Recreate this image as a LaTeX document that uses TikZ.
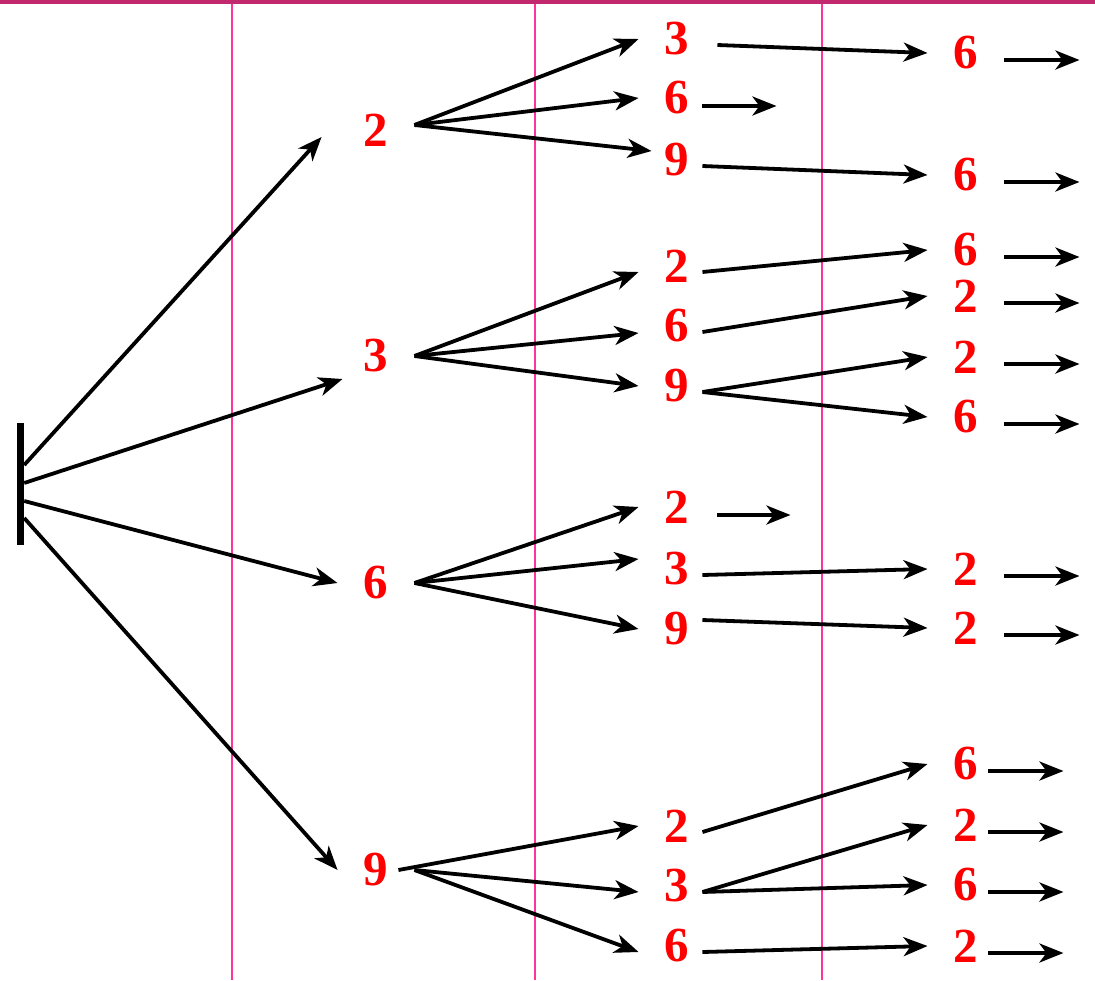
\documentclass[tikz,border=0pt]{standalone}
\usepackage{fontspec}
\setmainfont{Liberation Serif}
\newfontfamily\numfont{Liberation Serif Bold}
\usetikzlibrary{arrows.meta}
\definecolor{topline}{HTML}{C2286E}
\definecolor{colline}{HTML}{FF3399}
\tikzset{
  num/.style={text=red, font=\numfont\fontsize{49}{49}\selectfont, inner xsep=26pt, inner ysep=0pt},
  arr/.style={-{Stealth[length=24pt,width=19pt,inset=7pt]}, line width=3.8pt},
}
\begin{document}
\begin{tikzpicture}[x=1pt,y=-1pt] %% y goes down, as in the picture
  \useasboundingbox (0,0) rectangle (1095,980);
  %% frame
  \draw[topline, line width=4pt] (0,2) -- (1095,2);
  \foreach \x in {232, 535, 822} \draw[colline, line width=1.6pt] (\x,4) -- (\x,980);

  %% start bar
  \node[fill=black, minimum width=7pt, minimum height=122pt, inner sep=0pt] (root) at (20.5,484) {};

  %% first digit
  \foreach \n/\t/\y in {r2/2/130, r3/3/356, r6/6/583, r9/9/870}
    \node[num] (\n) at (376,\y) {\t};
  %% second digit
  \foreach \n/\t/\y in {r2-3/3/39, r2-6/6/98, r2-9/9/160, r3-2/2/266, r3-6/6/326, r3-9/9/386,
                        r6-2/2/507, r6-3/3/569, r6-9/9/629, r9-2/2/826, r9-3/3/886, r9-6/6/946}
    {\node[num] (\n) at (677,\y) {\t};
     \coordinate (\n-out) at ([shift={(-13pt,-6pt)}]\n.east);}
  %% third digit
  \foreach \n/\t/\y in {r2-3-6/6/53, r2-9-6/6/175, r3-2-6/6/250, r3-6-2/2/296, r3-9-2/2/357, r3-9-6/6/417,
                        r6-3-2/2/569, r6-9-2/2/628, r9-2-6/6/764, r9-3-2/2/825, r9-3-6/6/885, r9-6-2/2/946}
    \node[num] (\n) at (966,\y) {\t};

  %% bar -> first digit
  \draw[arr] ([yshift=19pt]root.east) -- ([shift={(-16pt,-7pt)}]r2.west);
  \draw[arr] ([yshift=1pt]root.east) -- ([shift={(5pt,-23pt)}]r3.west);
  \draw[arr] ([yshift=-17pt]root.east) -- (r6.west);
  \draw[arr] ([yshift=-34pt]root.east) -- (r9.west);

  %% first -> second digit
  \draw[arr] ([yshift=5pt]r2.east) -- (r2-3.west);
  \draw[arr] ([yshift=5pt]r2.east) -- (r2-6.west);
  \draw[arr] ([yshift=5pt]r2.east) -- ([shift={(13pt,9pt)}]r2-9.west);
  \draw[arr] (r3.east) -- ([yshift=-6pt]r3-2.west);
  \draw[arr] (r3.east) -- ([yshift=-7pt]r3-6.west);
  \draw[arr] (r3.east) -- (r3-9.west);
  \draw[arr] (r6.east) -- (r6-2.west);
  \draw[arr] (r6.east) -- ([yshift=10pt]r6-3.west);
  \draw[arr] (r6.east) -- (r6-9.west);
  \draw[arr] ([xshift=-16pt]r9.east) -- (r9-2.west);
  \draw[arr] (r9.east) -- ([yshift=-6pt]r9-3.west);
  \draw[arr] (r9.east) -- ([yshift=-6pt]r9-6.west);

  %% second -> third digit
  \draw[arr] ([shift={(2pt,-6pt)}]r2-3.east) -- (r2-3-6.west);
  \coordinate (r2-6-end) at ([shift={(61pt,-8pt)}]r2-6.east);
  \draw[arr] ([shift={(-13pt,-8pt)}]r2-6.east) -- (r2-6-end);
  \draw[arr] (r2-9-out) -- (r2-9-6.west);
  \draw[arr] (r3-2-out) -- (r3-2-6.west);
  \draw[arr] (r3-6-out) -- (r3-6-2.west);
  \draw[arr] (r3-9-out) -- (r3-9-2.west);
  \draw[arr] (r3-9-out) -- (r3-9-6.west);
  \coordinate (r6-2-end) at ([shift={(75pt,-8pt)}]r6-2.east);
  \draw[arr] ([shift={(2pt,-8pt)}]r6-2.east) -- (r6-2-end);
  \draw[arr] (r6-3-out) -- (r6-3-2.west);
  \draw[arr] ([shift={(-13pt,9pt)}]r6-9.east) -- (r6-9-2.west);
  \draw[arr] (r9-2-out) -- (r9-2-6.west);
  \draw[arr] (r9-3-out) -- (r9-3-2.west);
  \draw[arr] (r9-3-out) -- (r9-3-6.west);
  \draw[arr] (r9-6-out) -- (r9-6-2.west);

  %% open ends
  \foreach \n in {r2-3-6, r2-9-6, r3-2-6, r3-6-2, r3-9-2, r3-9-6, r6-3-2, r6-9-2}
    {\coordinate (\n-end) at ([shift={(75pt,-7pt)}]\n.east);
     \draw[arr] ([yshift=-7pt]\n.east) -- (\n-end);}
  \foreach \n in {r9-2-6, r9-3-2, r9-3-6, r9-6-2}
    {\coordinate (\n-end) at ([shift={(59pt,-7pt)}]\n.east);
     \draw[arr] ([shift={(-16pt,-7pt)}]\n.east) -- (\n-end);}
\end{tikzpicture}
\end{document}
